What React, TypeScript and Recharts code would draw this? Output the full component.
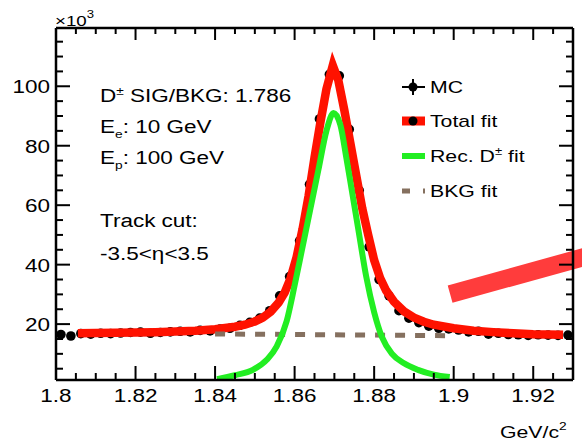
import React from "react";
import {
  ComposedChart,
  Bar,
  Line,
  XAxis,
  YAxis,
  ReferenceLine,
  Legend,
} from "recharts";

// MC histogram (bin centres in GeV/c^2, counts in units of 10^3)
const mcMass = [
  1.80125, 1.80375, 1.80625, 1.80875, 1.81125, 1.81375, 1.81625, 1.81875,
  1.82125, 1.82375, 1.82625, 1.82875, 1.83125, 1.83375, 1.83625, 1.83875,
  1.84125, 1.84375, 1.84625, 1.84875, 1.85125, 1.85375, 1.85625, 1.85875,
  1.86125, 1.86375, 1.86625, 1.86875, 1.87125, 1.87375, 1.87625, 1.87875,
  1.88125, 1.88375, 1.88625, 1.88875, 1.89125, 1.89375, 1.89625, 1.89875,
  1.90125, 1.90375, 1.90625, 1.90875, 1.91125, 1.91375, 1.91625, 1.91875,
  1.92125, 1.92375, 1.92625, 1.92875,
];
const mcCounts = [
  16.5, 16.0, 16.8, 16.6, 16.9, 16.8, 17.0, 17.2, 17.3, 16.9, 17.2, 17.4,
  17.6, 17.4, 17.9, 17.7, 18.3, 18.6, 19.6, 20.6, 22.0, 24.5, 29.5, 36.0,
  48.0, 67.0, 89.0, 104.0, 103.5, 85.5, 65.0, 46.0, 35.0, 29.5, 24.5, 22.0,
  20.5, 19.3, 18.6, 18.4, 18.0, 17.4, 17.6, 16.6, 16.9, 16.5, 16.4, 16.2,
  16.4, 16.3, 16.2, 16.3,
];

// total fit curve
const fitMass = [
  1.8055, 1.81, 1.815, 1.82, 1.825, 1.83, 1.835, 1.84, 1.845, 1.8475, 1.85,
  1.852, 1.854, 1.856, 1.8575, 1.859, 1.8605, 1.862, 1.8635, 1.865, 1.8665,
  1.868, 1.8696, 1.871, 1.8725, 1.874, 1.8755, 1.877, 1.8785, 1.88, 1.8815,
  1.883, 1.885, 1.8875, 1.89, 1.8925, 1.895, 1.9, 1.905, 1.91, 1.915, 1.92,
  1.9275,
];
const totalFit = [
  16.9, 17.0, 17.1, 17.2, 17.3, 17.5, 17.8, 18.3, 19.1, 19.8, 20.9, 22.2,
  24.2, 27.3, 30.6, 35.5, 42.5, 52.0, 63.0, 76.0, 88.0, 99.0, 107.0, 102.0,
  92.0, 81.0, 70.0, 59.0, 50.0, 41.5, 35.5, 31.3, 27.5, 24.3, 22.2, 20.8,
  19.8, 18.6, 17.8, 17.3, 16.9, 16.6, 16.4,
];

// reconstructed D± signal fit
const sigMass = [
  1.8405, 1.845, 1.8495, 1.853, 1.8555, 1.858, 1.86, 1.862, 1.864, 1.866,
  1.868, 1.8698, 1.8715, 1.873, 1.8745, 1.876, 1.878, 1.88, 1.882, 1.8845,
  1.8875, 1.891, 1.895, 1.899,
];
const sigFit = [
  1.5, 2.8, 4.6, 8.0, 12.5, 21.0, 33.0, 46.0, 59.0, 72.0, 85.0, 91.0, 87.0,
  76.0, 64.0, 52.0, 36.0, 24.0, 15.5, 10.0, 6.8, 4.6, 3.0, 2.2,
];

// background fit
const bkgMass = [1.84, 1.9];
const bkgFit = [16.7, 16.1];

const xTicks = [
  1.8, 1.805, 1.81, 1.815, 1.82, 1.825, 1.83, 1.835, 1.84, 1.845, 1.85, 1.855,
  1.86, 1.865, 1.87, 1.875, 1.88, 1.885, 1.89, 1.895, 1.9, 1.905, 1.91, 1.915,
  1.92, 1.925,
];
const yTicks = [
  5, 10, 15, 20, 25, 30, 35, 40, 45, 50, 55, 60, 65, 70, 75, 80, 85, 90, 95,
  100, 105, 110, 115,
];

const legendItems = ["MC", "Total fit", "Rec. D", "BKG fit"];

const X_DOMAIN = [1.8, 1.93];
const Y_DOMAIN = [1.2, 119.6];

const FONT = '"Liberation Sans", Arial, Helvetica, sans-serif';
const SX = 1.25; // glyphs in the reference are stretched horizontally
const RED = "#ff1200";
const GREEN = "#22ee22";
const BROWN = "#85705f";

const mcData = mcMass.map((x, i) => ({ x, y: mcCounts[i] }));
const totalData = fitMass.map((x, i) => ({ x, y: totalFit[i] }));
const sigData = sigMass.map((x, i) => ({ x, y: sigFit[i] }));
const bkgData = bkgMass.map((x, i) => ({ x, y: bkgFit[i] }));

const isMajorX = (v: number) => Math.abs(v * 50 - Math.round(v * 50)) < 1e-6;
const isMajorY = (v: number) => v % 20 === 0;

function Txt({
  x,
  y,
  size,
  anchor = "start",
  children,
}: {
  x: number;
  y: number;
  size: number;
  anchor?: "start" | "middle" | "end";
  children: React.ReactNode;
}) {
  return (
    <text
      transform={`translate(${x},${y}) scale(${SX},1)`}
      fontSize={size}
      fontFamily={FONT}
      textAnchor={anchor}
      fill="#000"
    >
      {children}
    </text>
  );
}

/** MC point: a bar shape that only draws the marker at the bar top */
function McDot(props: any) {
  const { x = 0, y = 0, width = 0 } = props;
  return <circle cx={x + width / 2} cy={y} r={4.8} fill="#000" />;
}

function BottomTick(props: any) {
  const { x, y, payload } = props;
  const v = payload.value as number;
  const major = isMajorX(v);
  return (
    <g>
      <line x1={x} x2={x} y1={y} y2={y - (major ? 14 : 7)} stroke="#000" strokeWidth={2} />
      {major && (
        <Txt x={x} y={y + 22} size={18} anchor="middle">
          {String(Math.round(v * 100) / 100)}
        </Txt>
      )}
    </g>
  );
}

function TopTick(props: any) {
  const { x, y, payload } = props;
  const major = isMajorX(payload.value);
  return <line x1={x} x2={x} y1={y} y2={y + (major ? 12 : 6)} stroke="#000" strokeWidth={2} />;
}

function LeftTick(props: any) {
  const { x, y, payload } = props;
  const v = payload.value as number;
  const major = isMajorY(v);
  return (
    <g>
      <line x1={x} x2={x + (major ? 14 : 7)} y1={y} y2={y} stroke="#000" strokeWidth={2} />
      {major && (
        <Txt x={x - 6} y={y + 7} size={18} anchor="end">
          {v}
        </Txt>
      )}
    </g>
  );
}

function RightTick(props: any) {
  const { x, y, payload } = props;
  const major = isMajorY(payload.value);
  return <line x1={x} x2={x - (major ? 14 : 7)} y1={y} y2={y} stroke="#000" strokeWidth={2} />;
}

/** legend, info block and axis titles drawn over the chart */
function Overlay() {
  return (
    <svg width={582} height={445} style={{ position: "absolute", left: 0, top: 0 }}>
      {/* axis titles */}
      <Txt x={55} y={26} size={15}>
        <tspan>×10</tspan>
        <tspan fontSize={10.5} dy={-8}>3</tspan>
      </Txt>
      <Txt x={500} y={438} size={17}>
        <tspan>GeV/c</tspan>
        <tspan fontSize={11} dy={-8}>2</tspan>
      </Txt>

      {/* info block */}
      <Txt x={100} y={102} size={18}>
        <tspan>D</tspan>
        <tspan fontSize={11} dy={-7}>±</tspan>
        <tspan dy={7}> SIG/BKG: 1.786</tspan>
      </Txt>
      <Txt x={100} y={133} size={18}>
        <tspan>E</tspan>
        <tspan fontSize={11} dy={5}>e</tspan>
        <tspan dy={-5}>: 10 GeV</tspan>
      </Txt>
      <Txt x={100} y={164} size={18}>
        <tspan>E</tspan>
        <tspan fontSize={11} dy={5}>p</tspan>
        <tspan dy={-5}>: 100 GeV</tspan>
      </Txt>
      <Txt x={100} y={227} size={18}>
        Track cut:
      </Txt>
      <Txt x={100} y={260} size={18}>
        -3.5&lt;η&lt;3.5
      </Txt>

      {/* legend */}
      <line x1={402} x2={425} y1={87} y2={87} stroke="#000" strokeWidth={2} />
      <line x1={413} x2={413} y1={79} y2={95} stroke="#000" strokeWidth={2} />
      <circle cx={413} cy={87} r={4.5} fill="#000" />
      <Txt x={430} y={93} size={17}>
        {legendItems[0]}
      </Txt>

      <line x1={402} x2={425} y1={121} y2={121} stroke={RED} strokeWidth={9} />
      <circle cx={413} cy={121} r={4.5} fill="#000" />
      <Txt x={430} y={127} size={17}>
        {legendItems[1]}
      </Txt>

      <line x1={402} x2={425} y1={156} y2={156} stroke={GREEN} strokeWidth={6} />
      <Txt x={430} y={162} size={17}>
        <tspan>{legendItems[2]}</tspan>
        <tspan fontSize={10.5} dy={-7}>±</tspan>
        <tspan dy={7}> fit</tspan>
      </Txt>

      <line
        x1={402}
        x2={425}
        y1={191}
        y2={191}
        stroke={BROWN}
        strokeWidth={5}
        strokeDasharray="8 13"
      />
      <Txt x={430} y={197} size={17}>
        {legendItems[3]}
      </Txt>
    </svg>
  );
}

export default function App() {
  const axisLine = { stroke: "#000", strokeWidth: 2.5 };
  return (
    <div
      style={{
        position: "absolute",
        left: 0,
        top: 0,
        width: 582,
        height: 445,
        background: "#fff",
      }}
    >
      <ComposedChart
        width={582}
        height={445}
        data={mcData}
        margin={{ top: 27, right: 8, bottom: 64, left: 55 }}
      >
        <XAxis
          dataKey="x"
          type="number"
          domain={X_DOMAIN}
          ticks={xTicks}
          interval={0}
          allowDataOverflow
          height={1}
          tickSize={0}
          tickMargin={0}
          tickLine={false}
          axisLine={axisLine}
          tick={(p: any) => <BottomTick {...p} />}
        />
        <XAxis
          xAxisId="top"
          orientation="top"
          dataKey="x"
          type="number"
          domain={X_DOMAIN}
          ticks={xTicks}
          interval={0}
          allowDataOverflow
          height={1}
          tickSize={0}
          tickMargin={0}
          tickLine={false}
          axisLine={axisLine}
          tick={(p: any) => <TopTick {...p} />}
        />
        <YAxis
          type="number"
          domain={Y_DOMAIN}
          ticks={yTicks}
          interval={0}
          allowDataOverflow
          width={1}
          tickSize={0}
          tickMargin={0}
          tickLine={false}
          axisLine={axisLine}
          tick={(p: any) => <LeftTick {...p} />}
        />
        <YAxis
          yAxisId="right"
          orientation="right"
          type="number"
          domain={Y_DOMAIN}
          ticks={yTicks}
          interval={0}
          allowDataOverflow
          width={1}
          tickSize={0}
          tickMargin={0}
          tickLine={false}
          axisLine={axisLine}
          tick={(p: any) => <RightTick {...p} />}
        />

        <Bar
          name="MC"
          dataKey="y"
          barSize={2}
          shape={(p: any) => <McDot {...p} />}
          isAnimationActive={false}
        />
        <Line
          name="Total fit"
          data={totalData}
          dataKey="y"
          type="linear"
          stroke={RED}
          strokeWidth={8.5}
          strokeLinejoin="miter"
          dot={false}
          activeDot={false}
          isAnimationActive={false}
        />
        <Line
          name="BKG fit"
          data={bkgData}
          dataKey="y"
          type="linear"
          stroke={BROWN}
          strokeWidth={5}
          strokeDasharray="10 10"
          dot={false}
          activeDot={false}
          isAnimationActive={false}
        />
        <Line
          name="Rec. D± fit"
          data={sigData}
          dataKey="y"
          type="monotone"
          stroke={GREEN}
          strokeWidth={6}
          dot={false}
          activeDot={false}
          isAnimationActive={false}
        />
        <ReferenceLine
          segment={[
            { x: 1.8991, y: 30.1 },
            { x: 1.9342, y: 43.1 },
          ]}
          stroke="#ff3c3c"
          strokeWidth={18}
          ifOverflow="visible"
        />
        <Legend
          layout="horizontal"
          verticalAlign="middle"
          align="center"
          wrapperStyle={{ position: "absolute", left: 0, top: 0, width: 582, height: 445 }}
          content={() => <Overlay />}
        />
      </ComposedChart>
    </div>
  );
}
